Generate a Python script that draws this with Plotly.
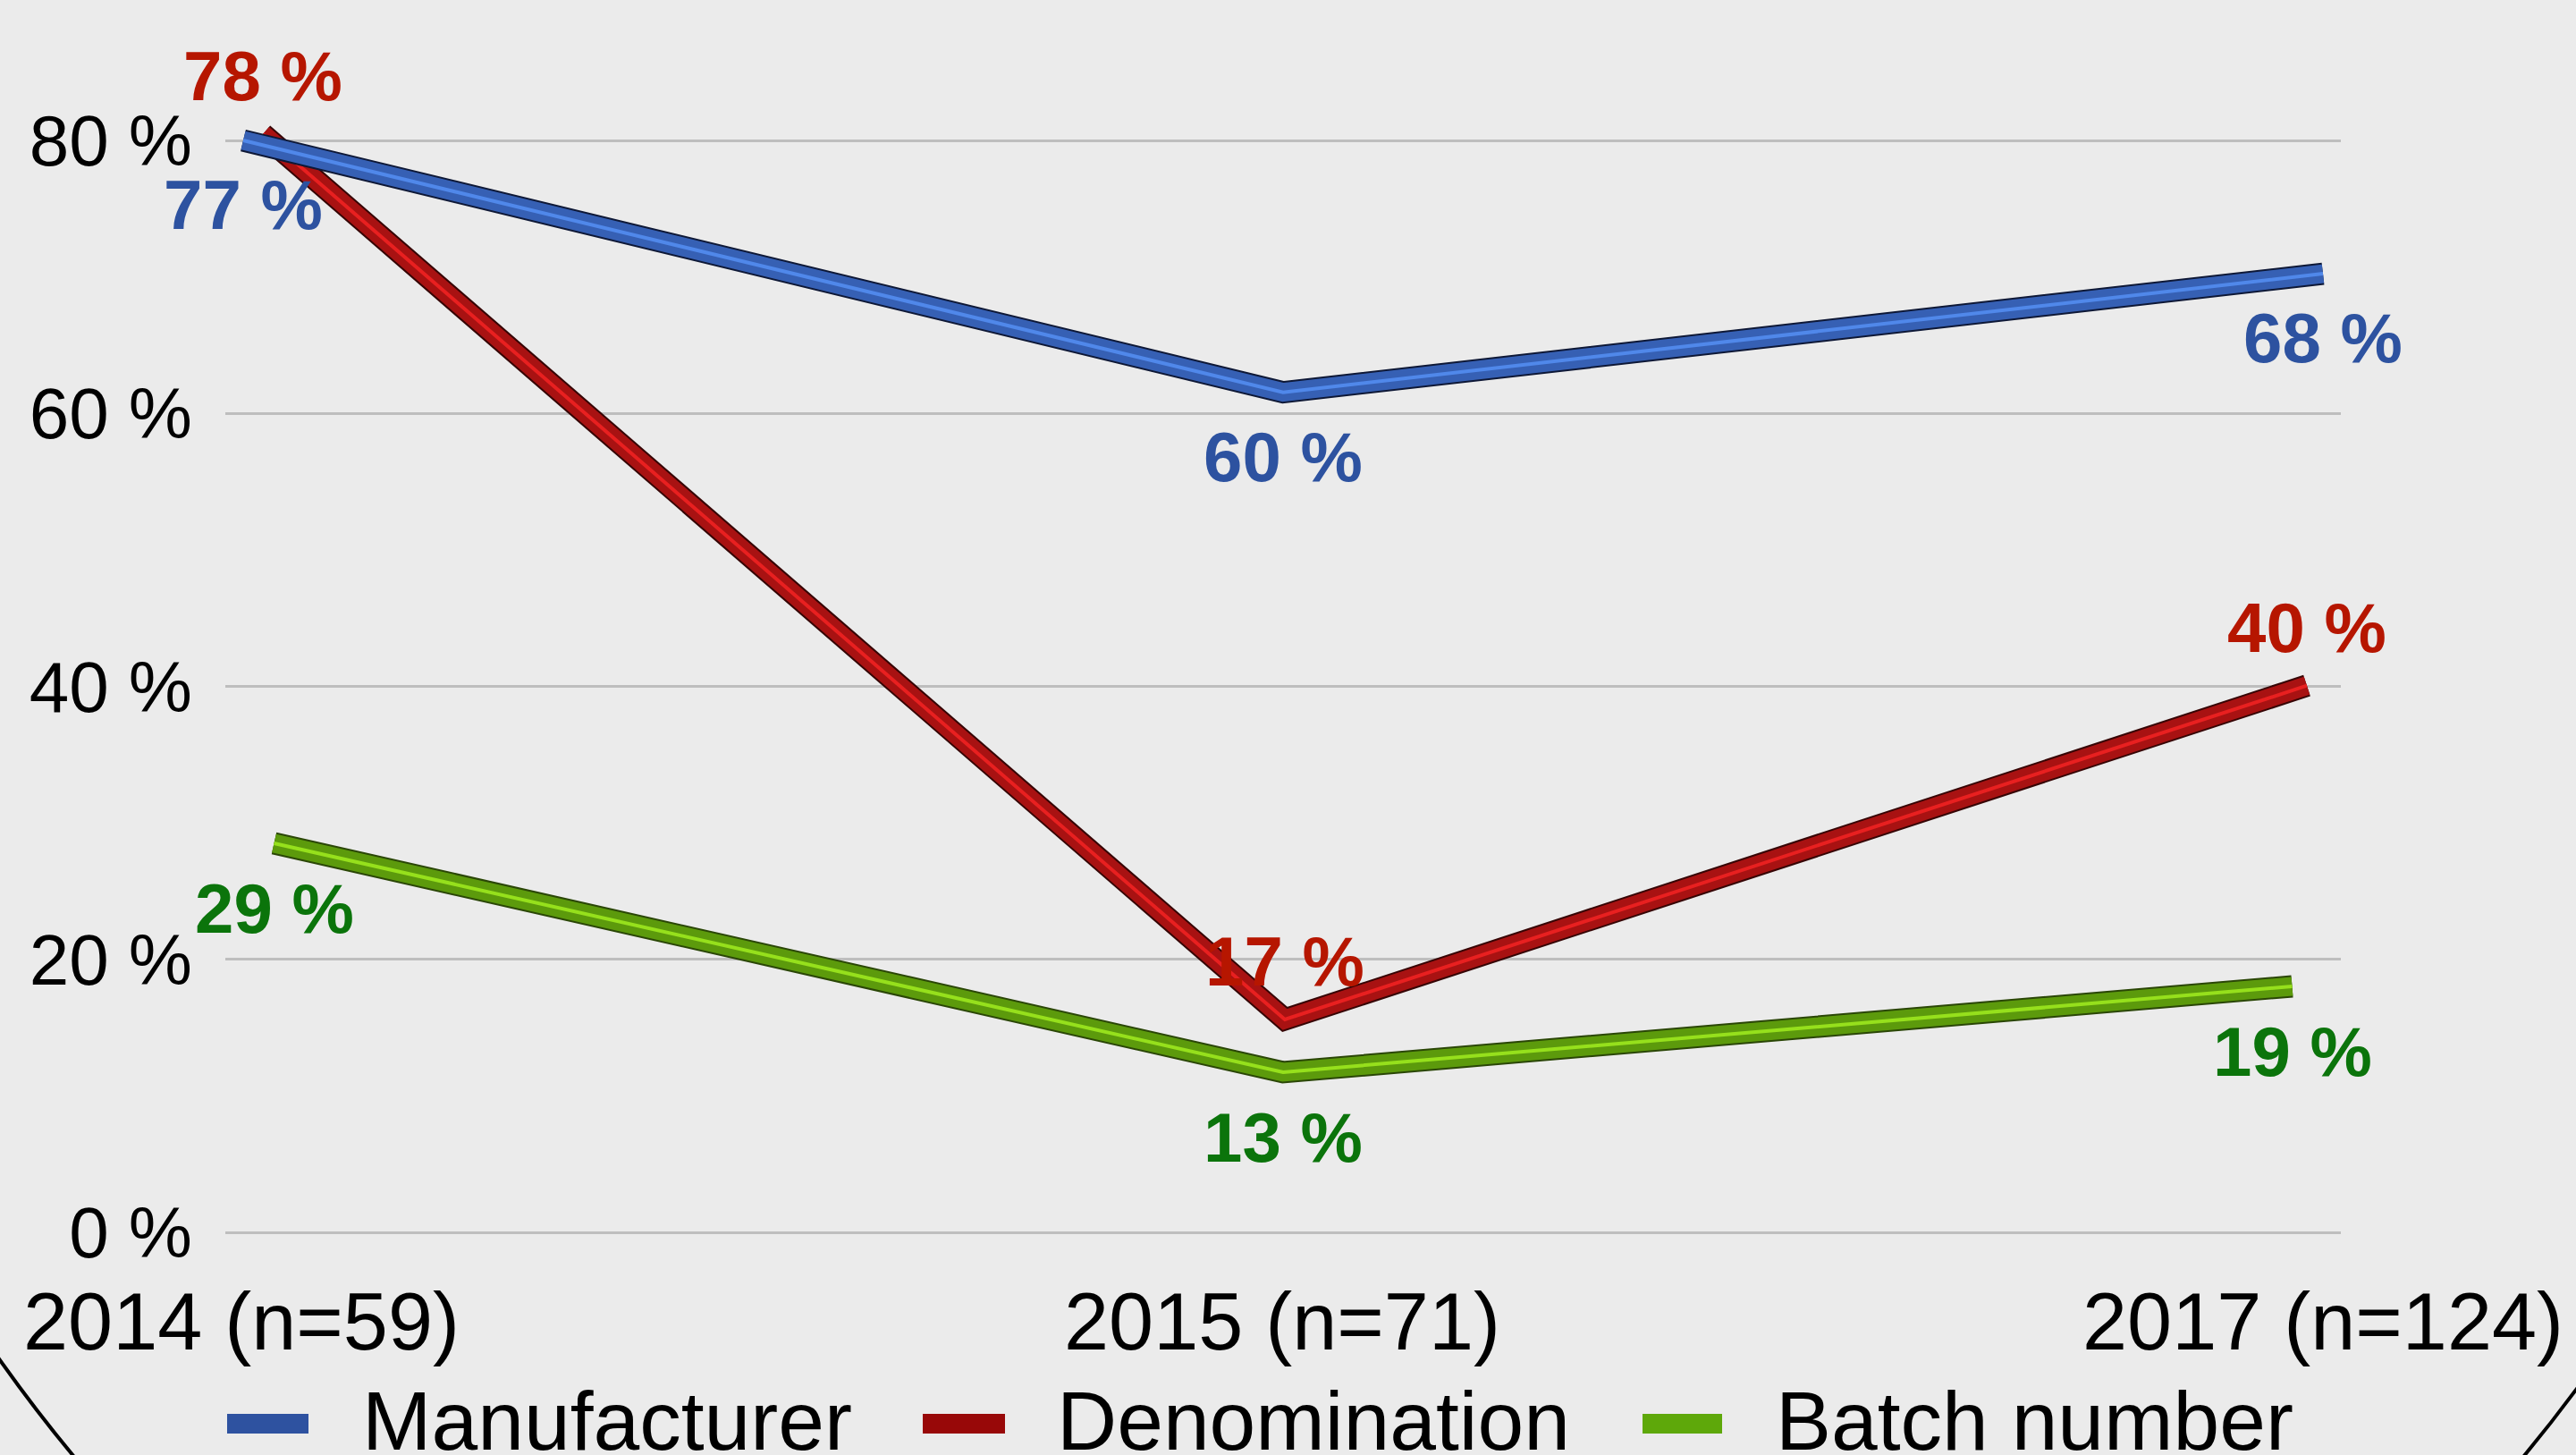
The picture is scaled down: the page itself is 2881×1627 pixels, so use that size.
import plotly.graph_objects as go

# ---------------- data ----------------
categories = ["2014 (n=59)", "2015 (n=71)", "2017 (n=124)"]
series_names = ["Manufacturer", "Denomination", "Batch number"]
manufacturer = [77, 60, 68]
denomination = [78, 17, 40]
batch_number = [29, 13, 19]
y_tick_values = [0, 20, 40, 60, 80]
y_tick_labels = ["0 %", "20 %", "40 %", "60 %", "80 %"]

# ---------------- geometry / style ----------------
W, H = 2881, 1627
L, R, T, B = 252, 2618, 40, 1396          # plot area in pixels
Y0 = 1378.0                                # pixel of 0 %
K = (1378.0 - 157.0) / 80.0                # pixels per 1 %
X_CAT0, X_STEP = 270.0, 1164.0             # pixel of first category, step

FONT = "Liberation Sans, Arial, Helvetica, sans-serif"
BG = "#EBEBEB"

base_y_range = [(Y0 - B) / K, (Y0 - T) / K]
base_x_range = [(L - X_CAT0) / X_STEP, (R - X_CAT0) / X_STEP]

# each series of the 3D chart sits at its own depth (perspective scale)
series_style = {
    "Batch number": dict(values=batch_number, a=1.048, b=-1.89, cx=1435, hs=1128.5,
                         dark="#2A4606", body="#5C9A0C", hi="#96E01C",
                         label="#0B740B", swatch="#5EA80A", shift=-73),
    "Denomination": dict(values=denomination, a=1.0633, b=-2.48, cx=1437, hs=1143,
                         dark="#360505", body="#A81212", hi="#E82020",
                         label="#B61600", swatch="#980808", shift=65),
    "Manufacturer": dict(values=manufacturer, a=1.0853, b=-3.57, cx=1435, hs=1163,
                         dark="#0E1836", body="#3660B4", hi="#5088EA",
                         label="#2D52A0", swatch="#2E52A0", shift=-72),
}
draw_order = ["Batch number", "Denomination", "Manufacturer"]

legend_pos = {  # swatch x0, x1, text x (pixels)
    "Manufacturer": (254, 345, 403),
    "Denomination": (1032, 1124, 1180),
    "Batch number": (1837, 1926, 1984),
}
SW_Y0, SW_Y1, LEG_TEXT_Y = 1581, 1603, 1589


def px_x(p):
    return (p - L) / (R - L)


def px_y(p):
    return (B - p) / (B - T)


fig = go.Figure()
# anchor trace so that the base (gridline / tick) subplot exists
fig.add_trace(go.Scatter(x=[None], y=[None], mode="lines", showlegend=False,
                         hoverinfo="skip", xaxis="x", yaxis="y"))

layout_axes = {}
annotations = []
mid = (len(categories) - 1) / 2.0

for n, name in enumerate(draw_order, start=2):
    st = series_style[name]
    xa, ya = f"x{n}", f"y{n}"
    # perspective projection expressed as axis ranges
    xr = [mid + (L - st["cx"]) / st["hs"], mid + (R - st["cx"]) / st["hs"]]
    yr = [(base_y_range[0] - st["b"]) / st["a"], (base_y_range[1] - st["b"]) / st["a"]]
    layout_axes[f"xaxis{n}"] = dict(type="category", overlaying="x", visible=False,
                                    range=xr, fixedrange=True, anchor=ya)
    layout_axes[f"yaxis{n}"] = dict(overlaying="y", visible=False, range=yr,
                                    fixedrange=True, anchor=xa)
    for color, width in ((st["dark"], 25), (st["body"], 21), (st["hi"], 4)):
        fig.add_trace(go.Scatter(x=categories, y=st["values"], mode="lines",
                                 line=dict(color=color, width=width),
                                 xaxis=xa, yaxis=ya, showlegend=False,
                                 hoverinfo="skip", name=name))
    for c, v in zip(categories, st["values"]):
        annotations.append(dict(x=c, y=v, xref=xa, yref=ya, text=f"{v} %",
                                showarrow=False, yshift=st["shift"],
                                xanchor="center", yanchor="middle",
                                font=dict(family=FONT, size=78, color=st["label"],
                                          weight="bold")))

# manual legend
shapes = []
for name in series_names:
    x0, x1, tx = legend_pos[name]
    st = series_style[name]
    shapes.append(dict(type="rect", xref="paper", yref="paper",
                       x0=px_x(x0), x1=px_x(x1), y0=px_y(SW_Y1), y1=px_y(SW_Y0),
                       fillcolor=st["swatch"], line=dict(width=0)))
    annotations.append(dict(x=px_x(tx), y=px_y(LEG_TEXT_Y), xref="paper", yref="paper",
                            text=name, showarrow=False, xanchor="left", yanchor="middle",
                            font=dict(family=FONT, size=93, color="black")))

# decorative frame arc (large circle whose edge shows in the bottom corners)
CX, CY, RAD = 1452.5, 492.0, 1780.0
shapes.append(dict(type="circle", xref="paper", yref="paper", layer="above",
                   x0=px_x(CX - RAD), x1=px_x(CX + RAD),
                   y0=px_y(CY + RAD), y1=px_y(CY - RAD),
                   line=dict(color="black", width=4), fillcolor="rgba(0,0,0,0)"))

fig.update_layout(
    width=W, height=H,
    margin=dict(l=L, r=W - R, t=T, b=H - B, pad=0),
    paper_bgcolor=BG, plot_bgcolor=BG,
    showlegend=False,
    font=dict(family=FONT, color="black"),
    xaxis=dict(range=base_x_range, tickvals=list(range(len(categories))),
               ticktext=categories, showgrid=False, zeroline=False, showline=False,
               ticks="", tickfont=dict(family=FONT, size=90, color="black"),
               ticklabelstandoff=22, fixedrange=True),
    yaxis=dict(range=base_y_range, tickvals=y_tick_values, ticktext=y_tick_labels,
               showgrid=True, gridcolor="#BEBEBE", gridwidth=3, zeroline=False,
               showline=False, ticks="", tickfont=dict(family=FONT, size=80, color="black"),
               ticklabelstandoff=36, fixedrange=True),
    annotations=annotations,
    shapes=shapes,
    **layout_axes,
)

fig.write_html("out.html", config={"displayModeBar": False},
               post_script="document.body.style.margin='0';document.body.style.overflow='hidden';")
